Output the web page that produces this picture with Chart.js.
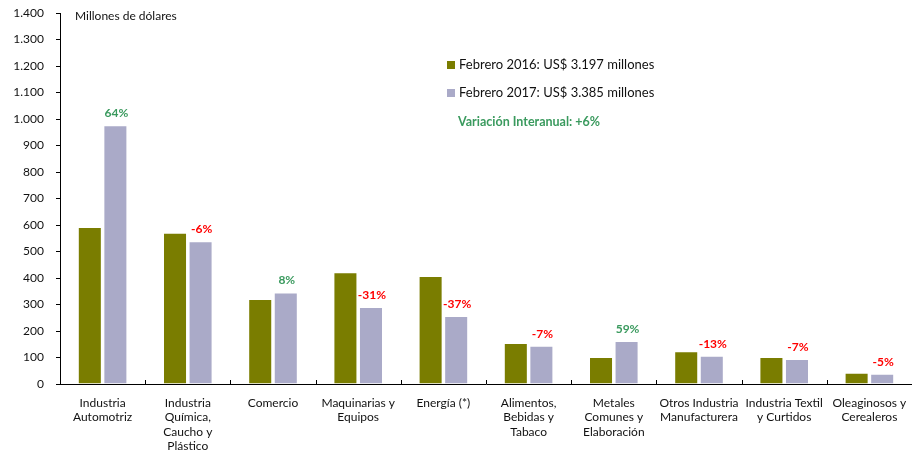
<!DOCTYPE html>
<html>
<head>
<meta charset="utf-8">
<script src="https://cdn.jsdelivr.net/npm/chart.js@4"></script>
<style>
  html, body { margin: 0; padding: 0; background: #fff; }
  #wrap { width: 912px; height: 454px; }
</style>
</head>
<body>
<div id="wrap"><canvas id="expoChart"></canvas></div>
<script>
const categorias = [
  ['Industria', 'Automotriz'],
  ['Industria', 'Química,', 'Caucho y', 'Plástico'],
  ['Comercio'],
  ['Maquinarias y', 'Equipos'],
  ['Energía (*)'],
  ['Alimentos,', 'Bebidas y', 'Tabaco'],
  ['Metales', 'Comunes y', 'Elaboración'],
  ['Otros Industria', 'Manufacturera'],
  ['Industria Textil', 'y Curtidos'],
  ['Oleaginosos y', 'Cerealeros']
];
const feb2016 = [592, 571, 321, 422, 408, 155, 102, 124, 102, 42];
const feb2017 = [976, 539, 345, 291, 257, 144, 162, 107, 94, 39];
const variacion = ['64%', '-6%', '8%', '-31%', '-37%', '-7%', '59%', '-13%', '-7%', '-5%'];
const serieNombres = ['Febrero 2016: US$ 3.197 millones', 'Febrero 2017: US$ 3.385 millones'];
const variacionTotal = 'Variación Interanual: +6%';

const VERDE = '#7a7d00';
const LILA = '#aaaac8';
const FONT = 'Lato, "Open Sans", sans-serif';

// etiquetas de variación sobre las barras de 2017
const etiquetas = {
  id: 'etiquetas',
  afterDatasetsDraw(chart) {
    const ctx = chart.ctx;
    const meta = chart.getDatasetMeta(1);
    ctx.save();
    ctx.font = 'bold 12px ' + FONT;
    ctx.textAlign = 'center';
    ctx.textBaseline = 'bottom';
    meta.data.forEach((bar, i) => {
      ctx.fillStyle = variacion[i].startsWith('-') ? '#ff0000' : '#3a9a5e';
      ctx.fillText(variacion[i], bar.x + 1, bar.y - 6);
    });
    ctx.restore();
  }
};

// marcas del eje x entre categorías, hacia adentro
const marcasX = {
  id: 'marcasX',
  afterDraw(chart) {
    const ctx = chart.ctx;
    const x = chart.scales.x;
    const b = chart.chartArea.bottom;
    ctx.save();
    ctx.strokeStyle = '#000';
    ctx.lineWidth = 1;
    for (let i = 1; i < categorias.length; i++) {
      const px = Math.round((x.getPixelForValue(i - 1) + x.getPixelForValue(i)) / 2) + 0.5;
      ctx.beginPath();
      ctx.moveTo(px, b - 4);
      ctx.lineTo(px, b);
      ctx.stroke();
    }
    ctx.restore();
  }
};

// leyenda y textos sueltos
const textos = {
  id: 'textos',
  afterDraw(chart) {
    const ctx = chart.ctx;
    ctx.save();
    ctx.textBaseline = 'middle';
    ctx.textAlign = 'left';
    ctx.font = '12px ' + FONT;
    ctx.fillStyle = '#111';
    ctx.fillText('Millones de dólares', 75, 16);
    [VERDE, LILA].forEach((c, i) => {
      const y = 65 + i * 28;
      ctx.fillStyle = c;
      ctx.fillRect(447, y - 4, 8, 8);
      ctx.fillStyle = '#111';
      ctx.font = '13px ' + FONT;
      ctx.fillText(serieNombres[i], 459, y);
    });
    ctx.font = 'bold 12.5px ' + FONT;
    ctx.fillStyle = '#3a9a5e';
    ctx.fillText(variacionTotal, 458, 122);
    ctx.restore();
  }
};

new Chart('expoChart', {
  type: 'bar',
  data: {
    labels: categorias,
    datasets: [{
      label: serieNombres[0],
      backgroundColor: VERDE,
      borderColor: '#ffffff',
      borderWidth: 1,
      borderSkipped: 'bottom',
      data: feb2016
    }, {
      label: serieNombres[1],
      backgroundColor: LILA,
      borderColor: '#ffffff',
      borderWidth: 1,
      borderSkipped: 'bottom',
      data: feb2017
    }]
  },
  options: {
    responsive: true,
    maintainAspectRatio: false,
    animation: false,
    layout: { padding: { top: 13, right: 0, left: 0, bottom: 0 } },
    datasets: { bar: { categoryPercentage: 0.6, barPercentage: 0.94 } },
    plugins: {
      legend: { display: false },
      tooltip: { enabled: false }
    },
    scales: {
      x: {
        grid: { display: false },
        border: { color: '#000', width: 1 },
        ticks: {
          color: '#111',
          font: { family: FONT, size: 12 },
          padding: 4,
          maxRotation: 0,
          autoSkip: false
        },
        afterFit(scale) { scale.height = 70; }
      },
      y: {
        min: 0,
        max: 1400,
        grid: { drawOnChartArea: false, drawTicks: true, tickLength: 4, color: '#000' },
        border: { color: '#000', width: 1 },
        ticks: {
          stepSize: 100,
          color: '#111',
          padding: 12,
          font: { family: FONT, size: 12 },
          callback: v => v.toLocaleString('de-DE')
        },
        afterFit(scale) {
          scale.width = 60;
          scale.paddingTop = 0;
          scale.paddingBottom = 0;
        }
      }
    }
  },
  plugins: [etiquetas, marcasX, textos]
});
</script>
</body>
</html>
